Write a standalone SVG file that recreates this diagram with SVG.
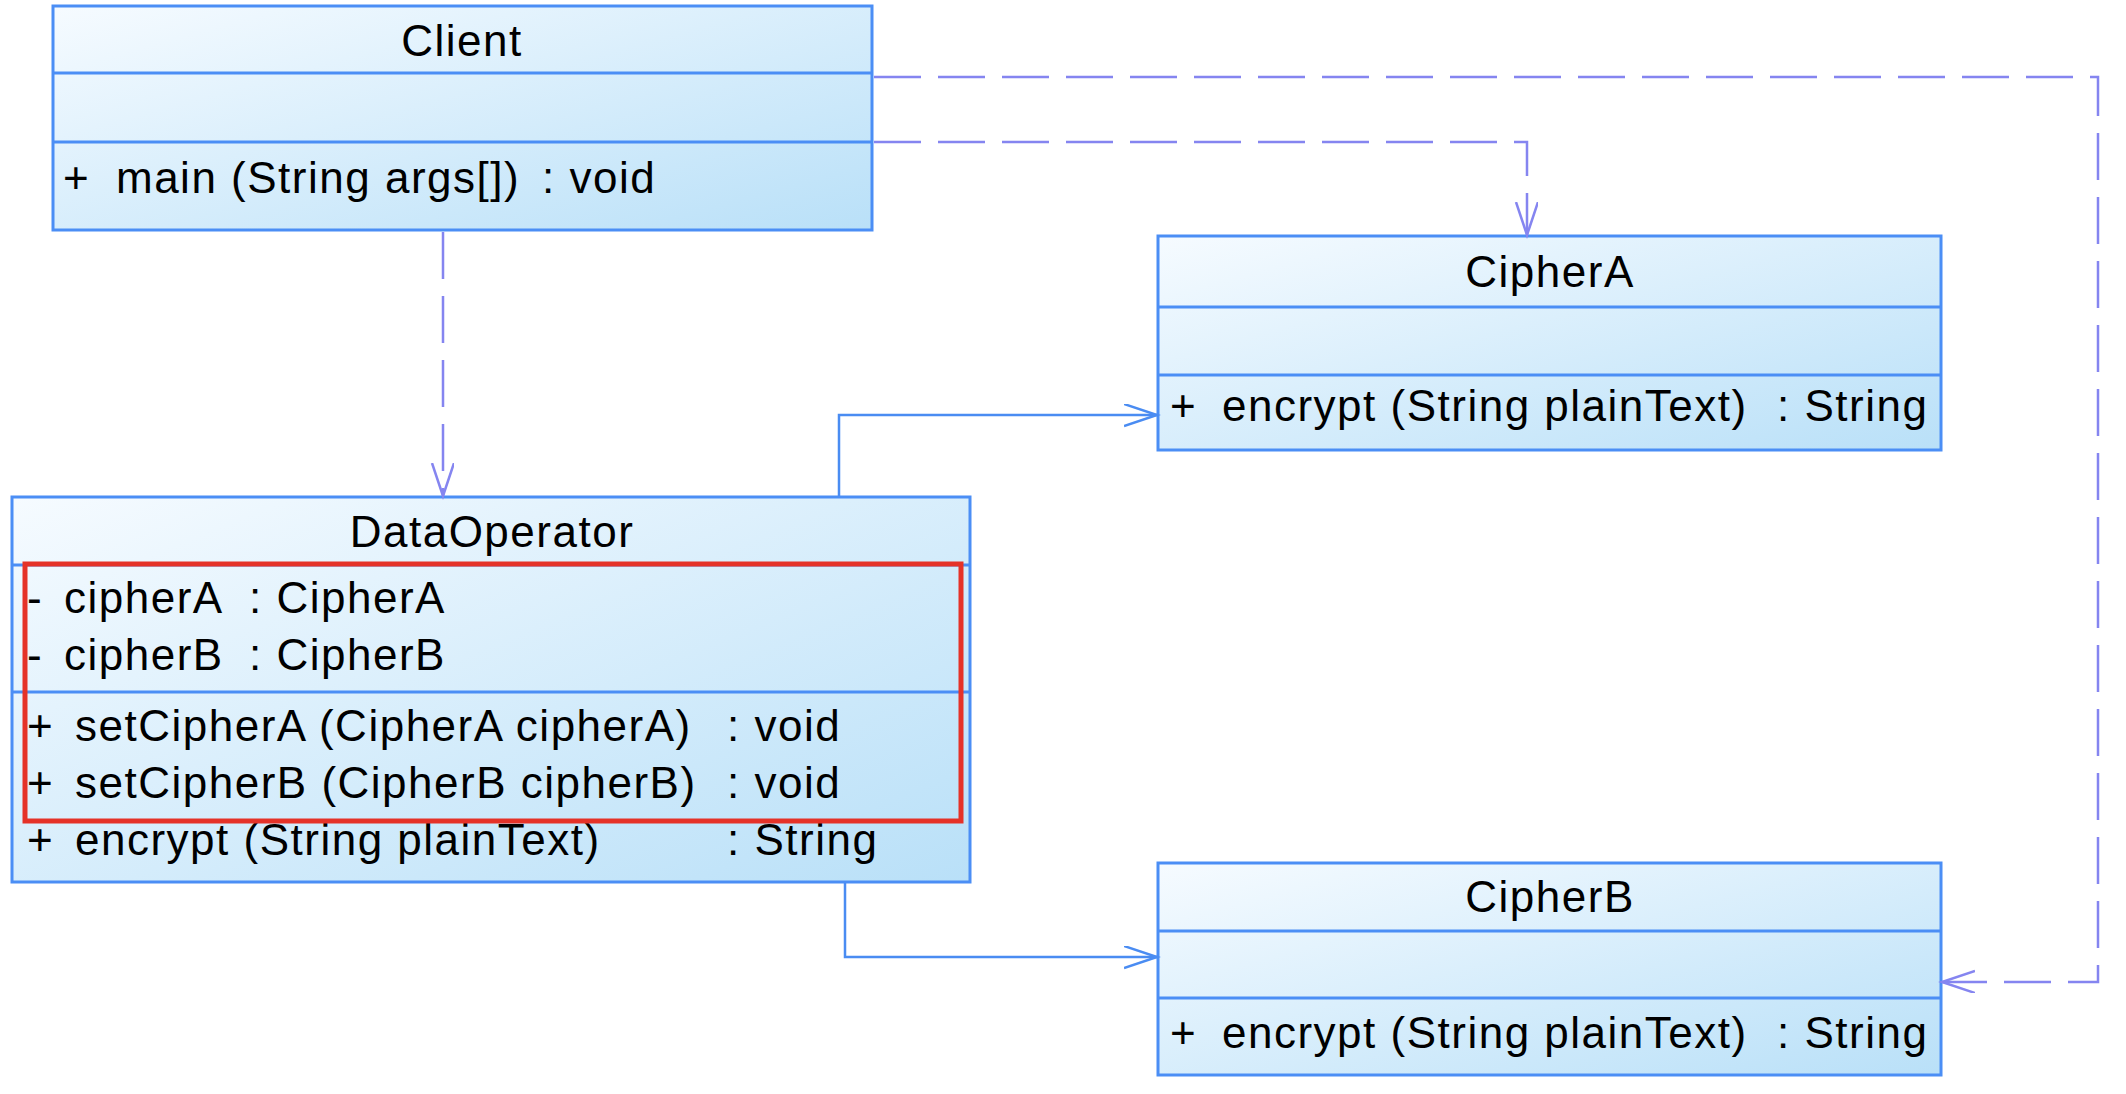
<svg xmlns="http://www.w3.org/2000/svg" width="2126" height="1094" viewBox="0 0 2126 1094">
<defs>
<linearGradient id="fill" x1="0" y1="0" x2="1" y2="1">
<stop offset="0" stop-color="#f6fbff"/>
<stop offset="1" stop-color="#b9e0f8"/>
</linearGradient>
<marker id="openS" markerUnits="userSpaceOnUse" markerWidth="40" markerHeight="30" refX="33" refY="11" orient="auto" viewBox="0 0 40 30">
<path d="M0,0 L33,11 L0,22" fill="none" stroke="#4a8cf2" stroke-width="2.5"/>
</marker>
<marker id="openD" markerUnits="userSpaceOnUse" markerWidth="40" markerHeight="30" refX="33" refY="11" orient="auto" viewBox="0 0 40 30">
<path d="M0,0 L33,11 L0,22" fill="none" stroke="#8585f0" stroke-width="2.5"/>
</marker>
</defs>
<style>
.box{fill:url(#fill);stroke:#4b8ef5;stroke-width:3}
.div{stroke:#4b8ef5;stroke-width:3}
text{font-family:"Liberation Sans",Arial,sans-serif;font-size:44px;fill:#000;letter-spacing:1.5px}
.title{text-anchor:middle}
.solid{fill:none;stroke:#4a8cf2;stroke-width:2.5}
.dash{fill:none;stroke:#8585f0;stroke-width:2.5;stroke-dasharray:47 17}
</style>
<rect width="2126" height="1094" fill="#ffffff"/>

<g id="Client">
<rect class="box" x="53" y="6" width="819" height="224"/>
<line class="div" x1="53" y1="73" x2="872" y2="73"/>
<line class="div" x1="53" y1="142" x2="872" y2="142"/>
<text class="title" x="462" y="56">Client</text>
<text x="63" y="193">+</text>
<text x="116" y="193">main (String args[])</text>
<text x="542" y="193">: void</text>
</g>

<g id="DataOperator">
<rect class="box" x="12" y="497" width="958" height="385"/>
<line class="div" x1="12" y1="565" x2="970" y2="565"/>
<line class="div" x1="12" y1="692" x2="970" y2="692"/>
<text class="title" x="492" y="547">DataOperator</text>
<text x="27" y="613">-</text>
<text x="64" y="613">cipherA</text>
<text x="249" y="613">: CipherA</text>
<text x="27" y="670">-</text>
<text x="64" y="670">cipherB</text>
<text x="249" y="670">: CipherB</text>
<text x="27" y="741">+</text>
<text x="75" y="741">setCipherA (CipherA cipherA)</text>
<text x="727" y="741">: void</text>
<text x="27" y="798">+</text>
<text x="75" y="798">setCipherB (CipherB cipherB)</text>
<text x="727" y="798">: void</text>
<text x="27" y="855">+</text>
<text x="75" y="855">encrypt (String plainText)</text>
<text x="727" y="855">: String</text>
</g>

<g id="CipherA">
<rect class="box" x="1158" y="236" width="783" height="214"/>
<line class="div" x1="1158" y1="307" x2="1941" y2="307"/>
<line class="div" x1="1158" y1="375" x2="1941" y2="375"/>
<text class="title" x="1550" y="287">CipherA</text>
<text x="1170" y="421">+</text>
<text x="1222" y="421">encrypt (String plainText)</text>
<text x="1777" y="421">: String</text>
</g>

<g id="CipherB">
<rect class="box" x="1158" y="863" width="783" height="212"/>
<line class="div" x1="1158" y1="931" x2="1941" y2="931"/>
<line class="div" x1="1158" y1="998" x2="1941" y2="998"/>
<text class="title" x="1550" y="912">CipherB</text>
<text x="1170" y="1048">+</text>
<text x="1222" y="1048">encrypt (String plainText)</text>
<text x="1777" y="1048">: String</text>
</g>

<g id="connectors">
<path class="dash" d="M443,232 L443,496" marker-end="url(#openD)"/>
<path class="dash" d="M874,142 L1527,142 L1527,235" marker-end="url(#openD)"/>
<path class="dash" d="M874,77 L2098,77 L2098,982 L1942,982" marker-end="url(#openD)"/>
<path class="solid" d="M839,496 L839,415 L1157,415" marker-end="url(#openS)"/>
<path class="solid" d="M845,883 L845,957 L1157,957" marker-end="url(#openS)"/>
</g>

<rect id="highlight" x="25" y="564" width="936" height="257" fill="none" stroke="#e53228" stroke-width="5"/>
</svg>
